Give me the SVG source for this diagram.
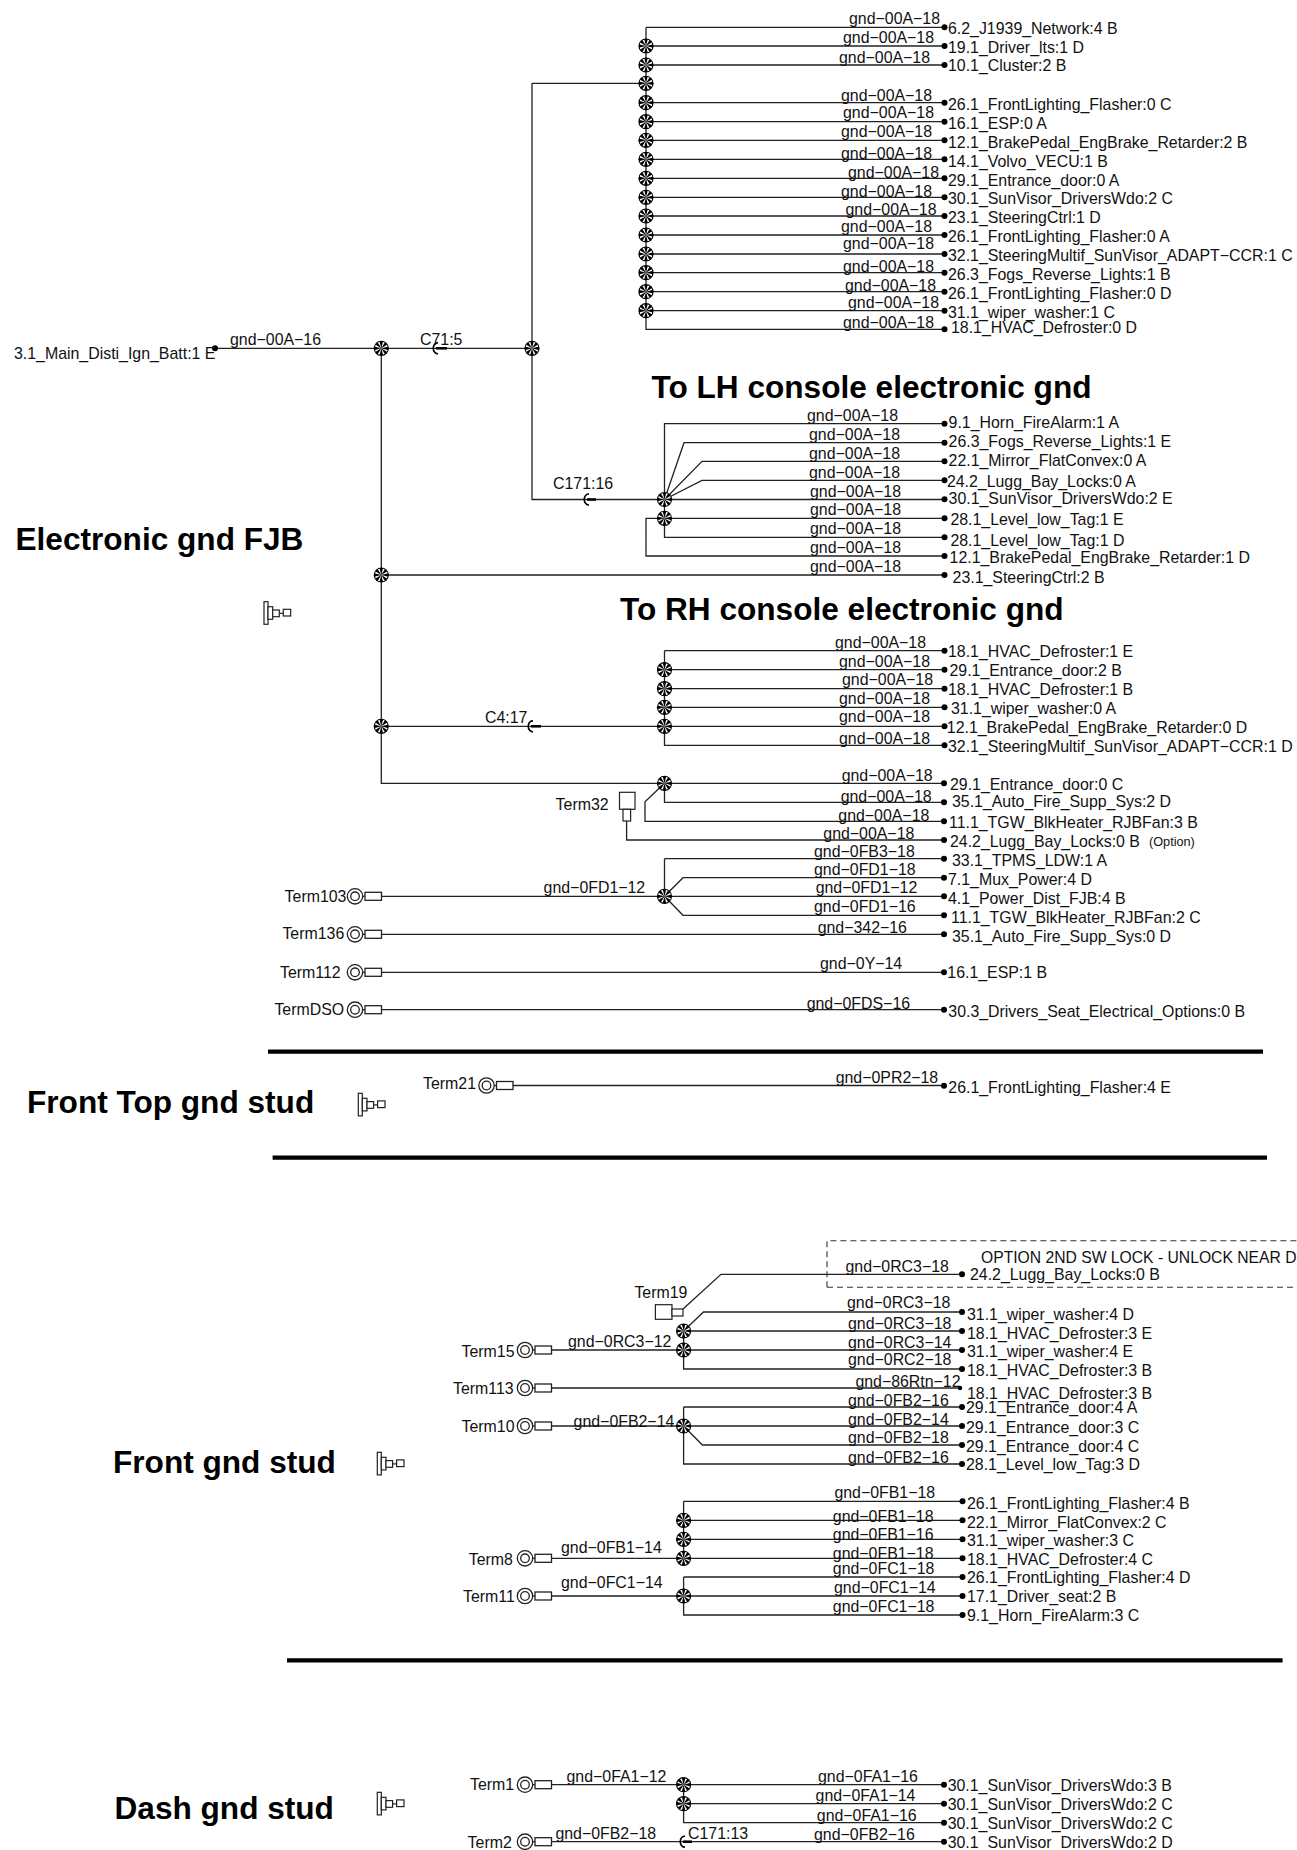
<svg xmlns="http://www.w3.org/2000/svg" width="1297" height="1850" viewBox="0 0 1297 1850">
<style>
text{font-family:"Liberation Sans",Arial,sans-serif;fill:#111}
.t{font-size:15.9px}
.l{font-size:15.9px}
.h{font-size:31.6px;font-weight:bold;fill:#000}
.w{fill:none;stroke:#222;stroke-width:1.3}
.b{fill:none;stroke:#000;stroke-width:4.2}
.d{fill:#000}
.s{fill:#fff;stroke:#222;stroke-width:1.2}
.c{fill:none;stroke:#000;stroke-width:1.6}
.k{stroke:#000;stroke-width:2.6}
</style>
<defs>
<g id="junction">
<circle r="7.6" fill="#000"/>
<path fill="#fff" d="M0 0L1.6 6.2 3.5 5.7ZM0 0L5.7 3.5 6.2 1.6ZM0 0L6.2-1.6 5.7-3.5ZM0 0L3.5-5.7 1.6-6.2ZM0 0L-1.6-6.2-3.5-5.7ZM0 0L-5.7-3.5-6.2-1.6ZM0 0L-6.2 1.6-5.7 3.5ZM0 0L-3.5 5.7-1.6 6.2Z"/>
</g>
<g id="stud" fill="#fff" stroke="#222" stroke-width="1.2">
<rect x="0" y="0" width="4" height="22.6"/>
<rect x="4" y="5" width="4.7" height="12.6"/>
<rect x="8.7" y="8.3" width="6.6" height="6.7"/>
<path d="M15.3 11.6H19.3"/>
<rect x="19.3" y="7.6" width="7.4" height="6.7"/>
</g>
<g id="ring" fill="#fff" stroke="#222" stroke-width="1.3">
<circle cx="-26.5" cy="0" r="7.7"/>
<circle cx="-26.5" cy="0" r="4.3"/>
<path d="M-18.8 0H-16.5"/>
<rect x="-16.5" y="-4" width="16.5" height="8"/>
</g>
</defs>

<rect width="1297" height="1850" fill="#fff"/>

<g id="connectors">
<path class="w" d="M215 348.3H532M381.3 348.3V783.3H944M381.3 575H944M381.3 726.3H664.5"/>
<path class="w" d="M532 83.3V499.5H665M532 83.3H646"/>
<path class="w" d="M646 27.3V329.3H944M646 27.3H944M646 46H944M646 65H944M646 102.7H944M646 121.7H944M646 140.3H944M646 159.3H944M646 178.3H944M646 197.3H944M646 216H944M646 235H944M646 254H944M646 272.7H944M646 291.7H944M646 310.7H944"/>
<path class="w" d="M664.5 499.5V423.7H944M664.5 499.5L684 442.7H944M664.5 499.5L702 461.3H944M664.5 499.5L702 480.3H944M664.5 499.5H944M664.5 499.5V537.3H944M664.5 518.3H944M664.5 518.3H646V556H944"/>
<path class="w" d="M664.5 650.7V745.3H944M664.5 650.7H944M664.5 669.7H944M664.5 688.7H944M664.5 707.3H944M664.5 726.3H944"/>
<path class="w" d="M664.5 783.3V802.3H944M664.5 783.3L645 801.7V821.3H944M626.6 821V840H944"/>
<path class="w" d="M381.5 896.3H944M664.5 858.7V896.3M664.5 858.7H944M664.5 896.3L683 877.7H944M664.5 896.3L683 915.3H944M381.5 934.3H944M381.5 972.3H944M381.5 1009.7H944"/>
<path class="w" d="M513 1085.5H944"/>
<path class="w" d="M683 1309L721 1274.3H962M551.5 1350H962M683.6 1331V1369H962M683.6 1331H962M683.6 1331L703.5 1312H962M551.5 1388H960"/>
<path class="w" d="M551.5 1426H962M683.6 1407V1464H962M683.6 1407H962M683.6 1426L702.4 1445H962"/>
<path class="w" d="M551.5 1558.3H962M683.6 1501.3V1558.3M683.6 1501.3H962M683.6 1520.3H962M683.6 1539.3H962"/>
<path class="w" d="M551.5 1596H962M683.6 1577V1615H962M683.6 1577H962"/>
<path class="w" d="M551.5 1784.7H944M683.6 1784.7V1822.7H944M683.6 1803.7H944M551.5 1841.7H944"/>
<path class="c" d="M438 342.6A5.8 5.8 0 0 0 438 354"/><path class="k" d="M436 348.3H447"/>
<path class="c" d="M589 493.8A5.8 5.8 0 0 0 589 505.2"/><path class="k" d="M587 499.5H596"/>
<path class="c" d="M533 720.6A5.8 5.8 0 0 0 533 732"/><path class="k" d="M531 726.3H541"/>
<path class="c" d="M685 1836A5.8 5.8 0 0 0 685 1847.4"/><path class="k" d="M683 1841.7H692"/>
<path d="M827 1287.3V1240.7H1297M827 1287.3H1297" fill="none" stroke="#333" stroke-width="1.1" stroke-dasharray="6 4"/>

<text class="l" x="230" y="345">gnd−00A−16</text>
<text class="l" x="420" y="345">C71:5</text>
<text class="l" x="553" y="489">C171:16</text>
<text class="l" x="485" y="723">C4:17</text>
<text class="l" x="543.6" y="893">gnd−0FD1−12</text>
<text class="l" x="568" y="1346.7">gnd−0RC3−12</text>
<text class="l" x="573.6" y="1426.7">gnd−0FB2−14</text>
<text class="l" x="561" y="1552.7">gnd−0FB1−14</text>
<text class="l" x="561" y="1588.3">gnd−0FC1−14</text>
<text class="l" x="566.5" y="1781.7">gnd−0FA1−12</text>
<text class="l" x="555.4" y="1839.3">gnd−0FB2−18</text>
<text class="l" x="688" y="1839.3">C171:13</text>

<text class="l" x="849" y="24">gnd−00A−18</text>
<text class="l" x="843" y="42.7">gnd−00A−18</text>
<text class="l" x="839" y="63">gnd−00A−18</text>
<text class="l" x="841" y="101">gnd−00A−18</text>
<text class="l" x="843" y="118">gnd−00A−18</text>
<text class="l" x="841" y="137">gnd−00A−18</text>
<text class="l" x="841" y="158.7">gnd−00A−18</text>
<text class="l" x="848" y="177.7">gnd−00A−18</text>
<text class="l" x="841" y="196.7">gnd−00A−18</text>
<text class="l" x="845.5" y="215">gnd−00A−18</text>
<text class="l" x="841" y="232">gnd−00A−18</text>
<text class="l" x="843" y="249">gnd−00A−18</text>
<text class="l" x="843" y="271.7">gnd−00A−18</text>
<text class="l" x="845" y="290.7">gnd−00A−18</text>
<text class="l" x="848" y="307.7">gnd−00A−18</text>
<text class="l" x="843" y="327.7">gnd−00A−18</text>

<text class="l" x="807" y="421">gnd−00A−18</text>
<text class="l" x="809" y="440">gnd−00A−18</text>
<text class="l" x="809" y="459">gnd−00A−18</text>
<text class="l" x="809" y="478">gnd−00A−18</text>
<text class="l" x="810" y="497">gnd−00A−18</text>
<text class="l" x="810" y="515">gnd−00A−18</text>
<text class="l" x="810" y="534">gnd−00A−18</text>
<text class="l" x="810" y="553">gnd−00A−18</text>
<text class="l" x="810" y="572">gnd−00A−18</text>

<text class="l" x="835" y="648">gnd−00A−18</text>
<text class="l" x="839" y="667">gnd−00A−18</text>
<text class="l" x="842" y="685">gnd−00A−18</text>
<text class="l" x="839" y="704">gnd−00A−18</text>
<text class="l" x="839" y="722">gnd−00A−18</text>
<text class="l" x="839" y="744">gnd−00A−18</text>

<text class="l" x="841.7" y="780.7">gnd−00A−18</text>
<text class="l" x="840.7" y="801.7">gnd−00A−18</text>
<text class="l" x="838.3" y="820.7">gnd−00A−18</text>
<text class="l" x="823.3" y="839.3">gnd−00A−18</text>
<text class="l" x="814" y="857.3">gnd−0FB3−18</text>
<text class="l" x="814" y="874.7">gnd−0FD1−18</text>
<text class="l" x="815.7" y="893.3">gnd−0FD1−12</text>
<text class="l" x="814" y="911.7">gnd−0FD1−16</text>
<text class="l" x="817.7" y="933.3">gnd−342−16</text>
<text class="l" x="820" y="969.3">gnd−0Y−14</text>
<text class="l" x="806.7" y="1009.3">gnd−0FDS−16</text>
<text class="l" x="835.7" y="1082.7">gnd−0PR2−18</text>

<text class="l" x="845.5" y="1272.3">gnd−0RC3−18</text>
<text class="l" x="847" y="1308.3">gnd−0RC3−18</text>
<text class="l" x="848" y="1329.3">gnd−0RC3−18</text>
<text class="l" x="848" y="1348">gnd−0RC3−14</text>
<text class="l" x="848" y="1365">gnd−0RC2−18</text>
<text class="l" x="855.4" y="1386.7">gnd−86Rtn−12</text>
<text class="l" x="848" y="1405.7">gnd−0FB2−16</text>
<text class="l" x="848" y="1425">gnd−0FB2−14</text>
<text class="l" x="848" y="1443.3">gnd−0FB2−18</text>
<text class="l" x="848" y="1462.7">gnd−0FB2−16</text>

<text class="l" x="834.4" y="1498.3">gnd−0FB1−18</text>
<text class="l" x="832.8" y="1521.7">gnd−0FB1−18</text>
<text class="l" x="832.8" y="1540">gnd−0FB1−16</text>
<text class="l" x="832.8" y="1559">gnd−0FB1−18</text>
<text class="l" x="832.8" y="1574.3">gnd−0FC1−18</text>
<text class="l" x="834" y="1593.3">gnd−0FC1−14</text>
<text class="l" x="832.8" y="1612.3">gnd−0FC1−18</text>

<text class="l" x="818" y="1781.7">gnd−0FA1−16</text>
<text class="l" x="815.6" y="1801">gnd−0FA1−14</text>
<text class="l" x="816.8" y="1821">gnd−0FA1−16</text>
<text class="l" x="814" y="1840">gnd−0FB2−16</text>
</g>

<g id="junctions">
<use href="#junction" x="381.3" y="348.3"/><use href="#junction" x="532" y="348.3"/><use href="#junction" x="381.3" y="575"/><use href="#junction" x="381.3" y="726.3"/>
<use href="#junction" x="646" y="46"/><use href="#junction" x="646" y="65"/><use href="#junction" x="646" y="83.3"/><use href="#junction" x="646" y="102.7"/><use href="#junction" x="646" y="121.7"/><use href="#junction" x="646" y="140.3"/><use href="#junction" x="646" y="159.3"/><use href="#junction" x="646" y="178.3"/><use href="#junction" x="646" y="197.3"/><use href="#junction" x="646" y="216"/><use href="#junction" x="646" y="235"/><use href="#junction" x="646" y="254"/><use href="#junction" x="646" y="272.7"/><use href="#junction" x="646" y="291.7"/><use href="#junction" x="646" y="310.7"/>
<use href="#junction" x="664.5" y="499.5"/><use href="#junction" x="664.5" y="518.3"/>
<use href="#junction" x="664.5" y="669.7"/><use href="#junction" x="664.5" y="688.7"/><use href="#junction" x="664.5" y="707.3"/><use href="#junction" x="664.5" y="726.3"/>
<use href="#junction" x="664.5" y="783.3"/><use href="#junction" x="664.5" y="896.3"/>
<use href="#junction" x="683.6" y="1331"/><use href="#junction" x="683.6" y="1350"/><use href="#junction" x="683.6" y="1426"/>
<use href="#junction" x="683.6" y="1520.3"/><use href="#junction" x="683.6" y="1539.3"/><use href="#junction" x="683.6" y="1558.3"/><use href="#junction" x="683.6" y="1596"/>
<use href="#junction" x="683.6" y="1784.7"/><use href="#junction" x="683.6" y="1803.7"/>
</g>

<g id="terminals">
<g id="term103"><use href="#ring" x="381.5" y="896.3"/><text class="l" x="284.6" y="902.3">Term103</text></g>
<g id="term136"><use href="#ring" x="381.5" y="934.3"/><text class="l" x="282.4" y="939.3">Term136</text></g>
<g id="term112"><use href="#ring" x="381.5" y="972.3"/><text class="l" x="280" y="978">Term112</text></g>
<g id="termDSO"><use href="#ring" x="381.5" y="1009.7"/><text class="l" x="274.4" y="1015">TermDSO</text></g>
<g id="term21"><use href="#ring" x="513" y="1085.5"/><text class="l" x="423" y="1089.3">Term21</text></g>
<g id="term15"><use href="#ring" x="551.5" y="1350"/><text class="l" x="461.5" y="1356.7">Term15</text></g>
<g id="term113"><use href="#ring" x="551.5" y="1388"/><text class="l" x="453" y="1394">Term113</text></g>
<g id="term10"><use href="#ring" x="551.5" y="1426"/><text class="l" x="461.5" y="1432.3">Term10</text></g>
<g id="term8"><use href="#ring" x="551.5" y="1558.3"/><text class="l" x="468.7" y="1565">Term8</text></g>
<g id="term11"><use href="#ring" x="551.5" y="1596"/><text class="l" x="463" y="1601.7">Term11</text></g>
<g id="term1"><use href="#ring" x="551.5" y="1784.7"/><text class="l" x="470" y="1790">Term1</text></g>
<g id="term2"><use href="#ring" x="551.5" y="1841.7"/><text class="l" x="467.6" y="1847.7">Term2</text></g>
<g id="term32"><rect class="s" x="619.5" y="792.3" width="15.5" height="17"/><rect class="s" x="623" y="809.3" width="7.6" height="11.7"/><text class="l" x="555.6" y="810">Term32</text></g>
<g id="term19"><rect class="s" x="655.4" y="1304.7" width="16.6" height="14.6"/><rect class="s" x="672" y="1309" width="11" height="7"/><text class="l" x="634.4" y="1298">Term19</text></g>
</g>

<g id="studs">
<use href="#stud" x="264" y="601.7"/>
<use href="#stud" x="358.3" y="1093.3"/>
<use href="#stud" x="377.3" y="1452.3"/>
<use href="#stud" x="377.3" y="1792.3"/>
</g>

<g id="dividers">
<path class="b" d="M268 1051.7H1263M272.6 1157.6H1267M287 1660.3H1282.6"/>
</g>

<g id="titles">
<text class="h" x="15.5" y="550">Electronic gnd FJB</text>
<text class="h" x="651.5" y="398">To LH console electronic gnd</text>
<text class="h" x="620" y="619.5">To RH console electronic gnd</text>
<text class="h" x="27" y="1113">Front Top gnd stud</text>
<text class="h" x="113" y="1473">Front gnd stud</text>
<text class="h" x="114.5" y="1819">Dash gnd stud</text>
</g>

<g id="source"><circle class="d" cx="215" cy="348.3" r="3"/><text class="t" x="14" y="359">3.1_Main_Disti_Ign_Batt:1 E</text></g>

<g id="destinations-top">
<g id="d01"><circle class="d" cx="944.5" cy="27.3" r="3"/><text class="t" x="948" y="33.9">6.2_J1939_Network:4 B</text></g>
<g id="d02"><circle class="d" cx="944.5" cy="46" r="3"/><text class="t" x="948" y="52.9">19.1_Driver_lts:1 D</text></g>
<g id="d03"><circle class="d" cx="944.5" cy="65" r="3"/><text class="t" x="948" y="71.2">10.1_Cluster:2 B</text></g>
<g id="d04"><circle class="d" cx="944.5" cy="102.7" r="3"/><text class="t" x="948" y="110.2">26.1_FrontLighting_Flasher:0 C</text></g>
<g id="d05"><circle class="d" cx="944.5" cy="121.7" r="3"/><text class="t" x="948" y="129.2">16.1_ESP:0 A</text></g>
<g id="d06"><circle class="d" cx="944.5" cy="140.3" r="3"/><text class="t" x="948" y="148.2">12.1_BrakePedal_EngBrake_Retarder:2 B</text></g>
<g id="d07"><circle class="d" cx="944.5" cy="159.3" r="3"/><text class="t" x="948" y="167.2">14.1_Volvo_VECU:1 B</text></g>
<g id="d08"><circle class="d" cx="944.5" cy="178.3" r="3"/><text class="t" x="948" y="186.2">29.1_Entrance_door:0 A</text></g>
<g id="d09"><circle class="d" cx="944.5" cy="197.3" r="3"/><text class="t" x="948" y="203.9">30.1_SunVisor_DriversWdo:2 C</text></g>
<g id="d10"><circle class="d" cx="944.5" cy="216" r="3"/><text class="t" x="948" y="222.9">23.1_SteeringCtrl:1 D</text></g>
<g id="d11"><circle class="d" cx="944.5" cy="235" r="3"/><text class="t" x="948" y="241.9">26.1_FrontLighting_Flasher:0 A</text></g>
<g id="d12"><circle class="d" cx="944.5" cy="254" r="3"/><text class="t" x="948" y="261.2">32.1_SteeringMultif_SunVisor_ADAPT−CCR:1 C</text></g>
<g id="d13"><circle class="d" cx="944.5" cy="272.7" r="3"/><text class="t" x="948" y="280.2">26.3_Fogs_Reverse_Lights:1 B</text></g>
<g id="d14"><circle class="d" cx="944.5" cy="291.7" r="3"/><text class="t" x="948" y="299.2">26.1_FrontLighting_Flasher:0 D</text></g>
<g id="d15"><circle class="d" cx="944.5" cy="310.7" r="3"/><text class="t" x="948" y="318.2">31.1_wiper_washer:1 C</text></g>
<g id="d16"><circle class="d" cx="944.5" cy="329.3" r="3"/><text class="t" x="951" y="332.9">18.1_HVAC_Defroster:0 D</text></g>
</g>

<g id="destinations-lh">
<g id="d17"><circle class="d" cx="944.5" cy="423.7" r="3"/><text class="t" x="948.6" y="428.3">9.1_Horn_FireAlarm:1 A</text></g>
<g id="d18"><circle class="d" cx="944.5" cy="442.7" r="3"/><text class="t" x="948.6" y="447.3">26.3_Fogs_Reverse_Lights:1 E</text></g>
<g id="d19"><circle class="d" cx="944.5" cy="461.3" r="3"/><text class="t" x="948.6" y="466.3">22.1_Mirror_FlatConvex:0 A</text></g>
<g id="d20"><circle class="d" cx="944.5" cy="480.3" r="3"/><text class="t" x="946.9" y="487.3">24.2_Lugg_Bay_Locks:0 A</text></g>
<g id="d21"><circle class="d" cx="944.5" cy="499.3" r="3"/><text class="t" x="948.6" y="504.3">30.1_SunVisor_DriversWdo:2 E</text></g>
<g id="d22"><circle class="d" cx="944.5" cy="518.3" r="3"/><text class="t" x="950.4" y="525">28.1_Level_low_Tag:1 E</text></g>
<g id="d23"><circle class="d" cx="944.5" cy="537.3" r="3"/><text class="t" x="950.4" y="546">28.1_Level_low_Tag:1 D</text></g>
<g id="d24"><circle class="d" cx="944.5" cy="556" r="3"/><text class="t" x="949.6" y="563.3">12.1_BrakePedal_EngBrake_Retarder:1 D</text></g>
<g id="d25"><circle class="d" cx="944.5" cy="575" r="3"/><text class="t" x="952.6" y="583">23.1_SteeringCtrl:2 B</text></g>
</g>

<g id="destinations-rh">
<g id="d26"><circle class="d" cx="944.5" cy="650.7" r="3"/><text class="t" x="948" y="657.3">18.1_HVAC_Defroster:1 E</text></g>
<g id="d27"><circle class="d" cx="944.5" cy="669.7" r="3"/><text class="t" x="949.5" y="676.3">29.1_Entrance_door:2 B</text></g>
<g id="d28"><circle class="d" cx="944.5" cy="688.7" r="3"/><text class="t" x="948" y="695.3">18.1_HVAC_Defroster:1 B</text></g>
<g id="d29"><circle class="d" cx="944.5" cy="707.3" r="3"/><text class="t" x="951" y="714.3">31.1_wiper_washer:0 A</text></g>
<g id="d30"><circle class="d" cx="944.5" cy="726.3" r="3"/><text class="t" x="946.8" y="733.3">12.1_BrakePedal_EngBrake_Retarder:0 D</text></g>
<g id="d31"><circle class="d" cx="944.5" cy="745.3" r="3"/><text class="t" x="948" y="752.3">32.1_SteeringMultif_SunVisor_ADAPT−CCR:1 D</text></g>
</g>

<g id="destinations-low">
<g id="d32"><circle class="d" cx="944" cy="783.3" r="3"/><text class="t" x="950" y="789.6">29.1_Entrance_door:0 C</text></g>
<g id="d33"><circle class="d" cx="944" cy="802.3" r="3"/><text class="t" x="952" y="807">35.1_Auto_Fire_Supp_Sys:2 D</text></g>
<g id="d34"><circle class="d" cx="944" cy="821.3" r="3"/><text class="t" x="949" y="828">11.1_TGW_BlkHeater_RJBFan:3 B</text></g>
<g id="d35"><circle class="d" cx="944" cy="840" r="3"/><text class="t" x="950" y="847">24.2_Lugg_Bay_Locks:0 B</text><text x="1149" y="846" font-size="12.7">(Option)</text></g>
<g id="d36"><circle class="d" cx="944" cy="858.7" r="3"/><text class="t" x="952" y="866">33.1_TPMS_LDW:1 A</text></g>
<g id="d37"><circle class="d" cx="944" cy="877.7" r="3"/><text class="t" x="948" y="884.6">7.1_Mux_Power:4 D</text></g>
<g id="d38"><circle class="d" cx="944" cy="896.3" r="3"/><text class="t" x="948" y="903.6">4.1_Power_Dist_FJB:4 B</text></g>
<g id="d39"><circle class="d" cx="944" cy="915.3" r="3"/><text class="t" x="951" y="922.6">11.1_TGW_BlkHeater_RJBFan:2 C</text></g>
<g id="d40"><circle class="d" cx="944" cy="934.3" r="3"/><text class="t" x="952" y="941.6">35.1_Auto_Fire_Supp_Sys:0 D</text></g>
<g id="d41"><circle class="d" cx="944" cy="972.3" r="3"/><text class="t" x="947.3" y="978.3">16.1_ESP:1 B</text></g>
<g id="d42"><circle class="d" cx="944" cy="1009.7" r="3"/><text class="t" x="948.3" y="1016.6">30.3_Drivers_Seat_Electrical_Options:0 B</text></g>
<g id="d43"><circle class="d" cx="944" cy="1085.7" r="3"/><text class="t" x="948.3" y="1092.6">26.1_FrontLighting_Flasher:4 E</text></g>
</g>

<g id="destinations-front">
<text x="981" y="1262.7" font-size="15.7">OPTION 2ND SW LOCK - UNLOCK NEAR D</text>
<g id="d44"><circle class="d" cx="962" cy="1274.3" r="3"/><text class="t" x="970" y="1280.2">24.2_Lugg_Bay_Locks:0 B</text></g>
<g id="d45"><circle class="d" cx="962" cy="1312" r="3"/><text class="t" x="967" y="1319.5">31.1_wiper_washer:4 D</text></g>
<g id="d46"><circle class="d" cx="962" cy="1331" r="3"/><text class="t" x="967" y="1338.5">18.1_HVAC_Defroster:3 E</text></g>
<g id="d47"><circle class="d" cx="962" cy="1350" r="3"/><text class="t" x="967" y="1357.2">31.1_wiper_washer:4 E</text></g>
<g id="d48"><circle class="d" cx="962" cy="1369" r="3"/><text class="t" x="967" y="1376.2">18.1_HVAC_Defroster:3 B</text></g>
<g id="d49"><circle class="d" cx="960" cy="1388" r="2.2"/><text class="t" x="967" y="1398.9">18.1_HVAC_Defroster:3 B</text></g>
<g id="d50"><circle class="d" cx="962" cy="1407" r="3"/><text class="t" x="966" y="1413">29.1_Entrance_door:4 A</text></g>
<g id="d51"><circle class="d" cx="962" cy="1426" r="3"/><text class="t" x="966" y="1432.9">29.1_Entrance_door:3 C</text></g>
<g id="d52"><circle class="d" cx="962" cy="1445" r="3"/><text class="t" x="966" y="1451.9">29.1_Entrance_door:4 C</text></g>
<g id="d53"><circle class="d" cx="962" cy="1464" r="3"/><text class="t" x="966" y="1470.2">28.1_Level_low_Tag:3 D</text></g>
<g id="d54"><circle class="d" cx="962.5" cy="1501.3" r="3"/><text class="t" x="967" y="1508.6">26.1_FrontLighting_Flasher:4 B</text></g>
<g id="d55"><circle class="d" cx="962.5" cy="1520.3" r="3"/><text class="t" x="967" y="1527.6">22.1_Mirror_FlatConvex:2 C</text></g>
<g id="d56"><circle class="d" cx="962.5" cy="1539.3" r="3"/><text class="t" x="967" y="1546.3">31.1_wiper_washer:3 C</text></g>
<g id="d57"><circle class="d" cx="962.5" cy="1558.3" r="3"/><text class="t" x="967" y="1564.6">18.1_HVAC_Defroster:4 C</text></g>
<g id="d58"><circle class="d" cx="962.5" cy="1577" r="3"/><text class="t" x="967" y="1583">26.1_FrontLighting_Flasher:4 D</text></g>
<g id="d59"><circle class="d" cx="962.5" cy="1596" r="3"/><text class="t" x="967" y="1602">17.1_Driver_seat:2 B</text></g>
<g id="d60"><circle class="d" cx="962.5" cy="1615" r="3"/><text class="t" x="967" y="1621.3">9.1_Horn_FireAlarm:3 C</text></g>
</g>

<g id="destinations-dash">
<g id="d61"><circle class="d" cx="944" cy="1784.7" r="3"/><text class="t" x="947.7" y="1791">30.1_SunVisor_DriversWdo:3 B</text></g>
<g id="d62"><circle class="d" cx="944" cy="1803.7" r="3"/><text class="t" x="947.7" y="1810.3">30.1_SunVisor_DriversWdo:2 C</text></g>
<g id="d63"><circle class="d" cx="944" cy="1822.7" r="3"/><text class="t" x="947.7" y="1829.3">30.1_SunVisor_DriversWdo:2 C</text></g>
<g id="d64"><circle class="d" cx="944" cy="1841.7" r="3"/><text class="t" x="947.7" y="1848">30.1_SunVisor_DriversWdo:2 D</text></g>
</g>
</svg>
